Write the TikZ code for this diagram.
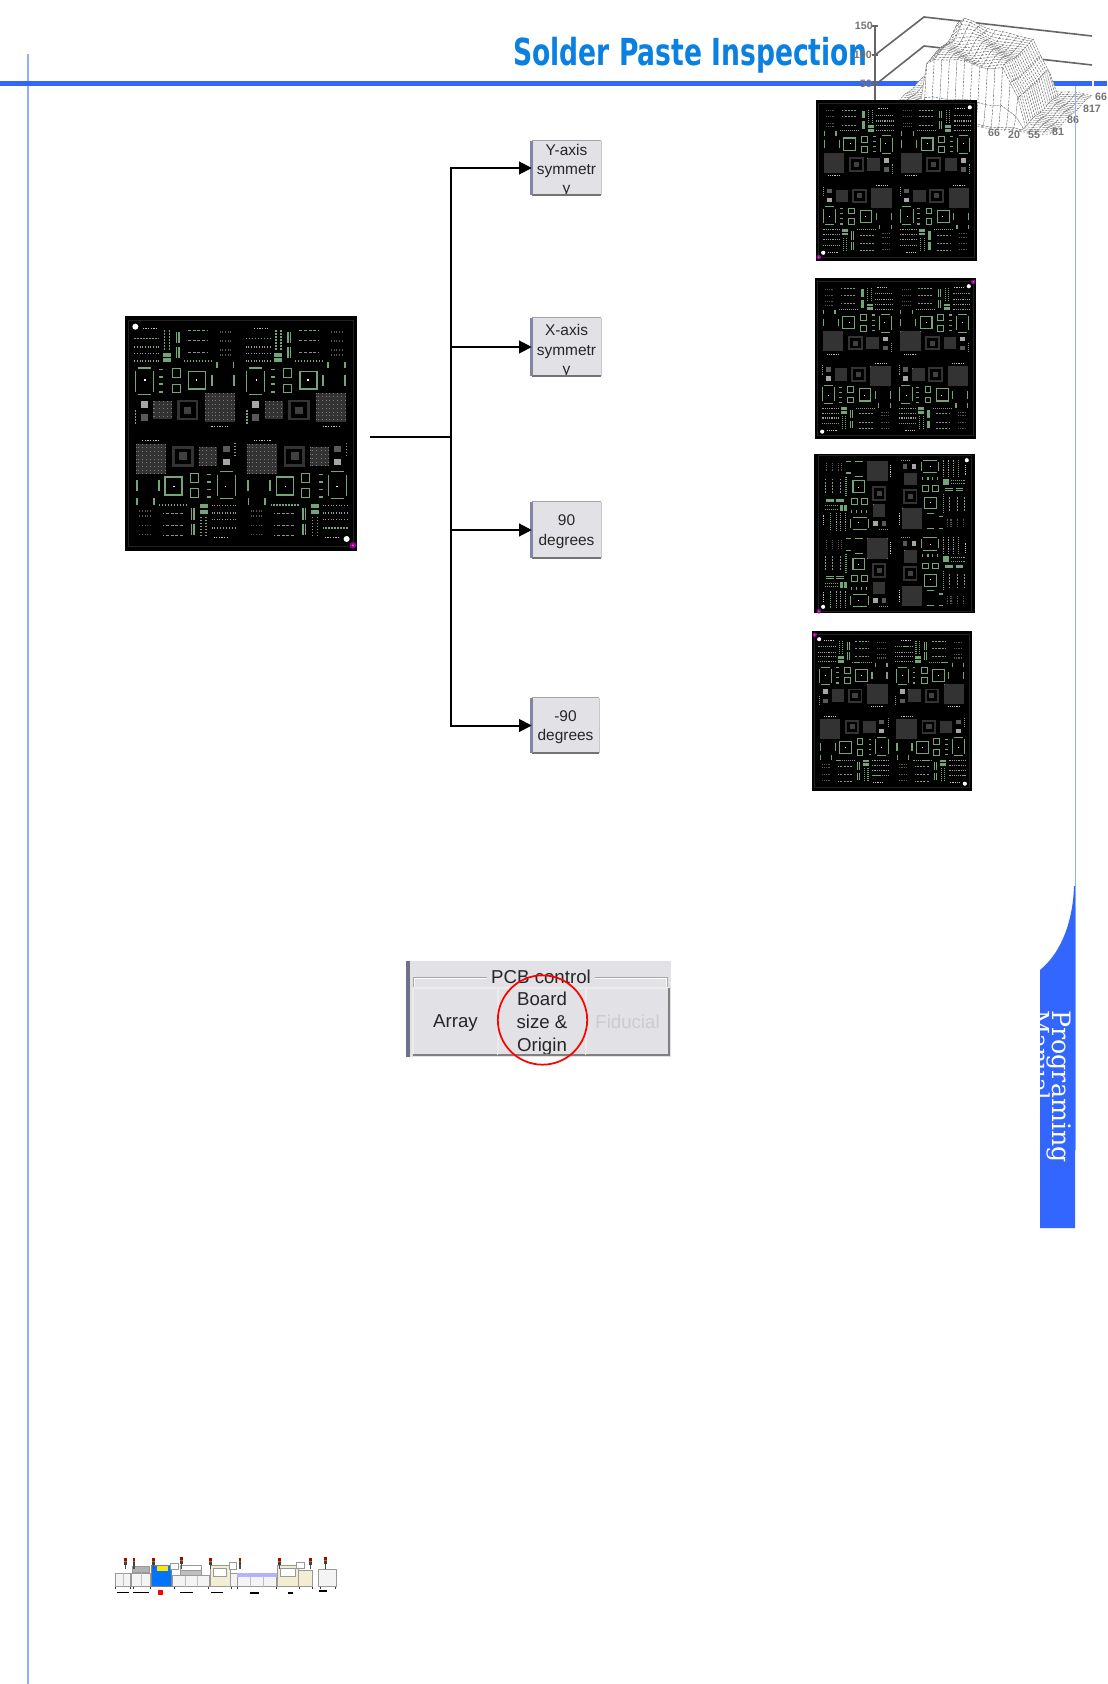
\documentclass[tikz,border=0pt]{standalone}
\usepackage{fontspec}
\usepackage{graphicx}
\setmainfont{Liberation Sans}
\newfontfamily\slabfont{DejaVu Serif}
\newfontfamily\blockfont{DejaVu Sans}
\usetikzlibrary{arrows.meta}
\definecolor{hdr}{HTML}{3366FF}
\definecolor{thinln}{HTML}{8FAEFF}
\definecolor{ttl}{HTML}{0A80E0}
\definecolor{pan}{HTML}{E2E1E5}
\definecolor{barc}{HTML}{8484A4}
\definecolor{grn}{HTML}{74A47A}
\definecolor{dimg}{HTML}{565656}
\definecolor{gridc}{HTML}{7A7A7A}
\definecolor{cream}{HTML}{F3EED2}
\definecolor{mach}{HTML}{F4F4F4}
\tikzset{
  declare function={
    bx(\u,\v)=min(1,max(0,(\u-.2)/.03))*min(1,max(0,(.8-\u)/.04))*min(1,max(0,(\v-.08)/.03))*min(1,max(0,(.95-\v)/.05));
    hh(\u,\v)=bx(\u,\v)*(56+5*\v-18*(\u-.25)*\v+2*sin(900*\u+700*\v)+7*exp(-((\u-.33)^2+(\v-.9)^2)/.03))*(\u>.7?.72:1)+1*sin(1500*\u+900*\v);
  },
  gdot/.style={draw=grn,line width=5*\pu,dash pattern=on 5*\pu off 4*\pu},
  gdsh/.style={draw=grn,line width=4*\pu,dash pattern=on 9*\pu off 5*\pu},
  gbar/.style={draw=grn,line width=5*\pu},
  ydot/.style={draw=dimg,line width=5*\pu,dash pattern=on 3*\pu off 5*\pu},
  wdot/.style={draw=white!75!black,line width=3*\pu,dash pattern=on 4*\pu off 4*\pu},
  gline/.style={draw=grn,line width=3.5*\pu},
  btn/.style={rectangle,fill=pan,inner sep=0pt,minimum width=#1},
  btxt/.style={font=\fontsize{11.6}{14.4}\selectfont,align=center,inner sep=0pt,text=black!85},
  ptxt/.style={font=\fontsize{14}{17.2}\selectfont,align=center,inner sep=0pt,text=black!85},
  axl/.style={font=\bfseries\fontsize{8}{8}\selectfont,text=black!55,inner sep=0pt},
  conn/.style={draw=black,line width=1.5pt},
  mc/.style={draw=black!40,line width=.35pt,fill=mach},
}
\newcommand{\gridbox}[5]{%
  \fill[gridc] (#1,#2) rectangle (#3,#4);
  \foreach \gx in {1,...,#5}{\draw[black!80,line width=1.3*\pu] ({#1+(#3-#1)*\gx/(#5+1)},#2) -- ({#1+(#3-#1)*\gx/(#5+1)},#4);
    \draw[black!80,line width=1.3*\pu] (#1,{#2+(#4-#2)*\gx/(#5+1)}) -- (#3,{#2+(#4-#2)*\gx/(#5+1)});}}
\newcommand{\qpat}{%
  \draw[wdot] (100,85) -- (142,85);
  \draw[gdot] (75,115) -- (148,115);
  \draw[ydot,draw=white!60!black] (75,140) -- (148,140);
  \draw[ydot,draw=white!60!black] (75,160) -- (148,160);
  \draw[ydot,draw=white!60!black] (75,182) -- (148,182);
  \draw[gdot] (165,90) -- (165,150);
  \draw[gdot] (180,90) -- (180,150);
  \draw[gbar] (201,95) -- (201,128); \draw[gbar] (209,95) -- (209,128);
  \draw[gbar] (201,140) -- (201,175); \draw[gbar] (209,140) -- (209,175);
  \fill[grn] (160,158) rectangle (185,170); \fill[grn] (160,174) rectangle (185,186);
  \draw[gdsh] (235,92) -- (295,92);
  \draw[gdsh,draw=white!55!black] (235,122) -- (295,122);
  \draw[gdsh,draw=white!55!black] (235,158) -- (295,158);
  \draw[gdot] (222,183) -- (305,183);
  \draw[ydot] (330,95) -- (368,95);
  \draw[ydot] (330,122) -- (368,122);
  \draw[ydot] (330,150) -- (368,150);
  \draw[ydot] (330,165) -- (368,165);
  \draw[gline] (78,212) -- (78,275); \draw[gline] (132,212) -- (132,275);
  \draw[gline] (85,204) -- (125,204); \draw[gline] (85,283) -- (125,283);
  \fill[white] (105,238) rectangle (109,242);
  \foreach \yy in {208,230,252,275}{\draw[gbar] (150,\yy) -- (162,\yy);}
  \draw[gline] (188,206) rectangle (213,232);
  \draw[gline] (188,252) rectangle (213,278);
  \draw[gline,line width=5*\pu] (237,214) rectangle (288,267);
  \fill[white] (259,238) rectangle (263,242);
  \draw[gbar,line width=6*\pu] (307,225) -- (307,258);
  \draw[gbar,line width=6*\pu] (372,225) -- (372,258);
  \draw[gbar] (322,185) -- (322,205);
  \draw[gbar] (372,185) -- (372,205);
  \draw[gdot] (78,330) -- (78,372);
  \fill[white!65!black] (95,303) rectangle (116,323);
  \fill[white!35!black] (95,343) rectangle (116,362);
  \gridbox{132}{302}{187}{358}{13}
  \draw[white!20!black,line width=8*\pu] (207,303) rectangle (262,357);
  \fill[white!25!black] (222,320) rectangle (245,342);
  \gridbox{286}{278}{375}{367}{21}
  \draw[wdot] (305,378) -- (356,378);
}
\newcommand{\boardat}[8]{% name, cx, cy, w, h, transform, pu, colour
  \node (#1) [rectangle,fill=black,inner sep=0pt,minimum width=#4*.75pt,minimum height=#5*.75pt] at (#2,#3) {};
  \begin{scope}[shift={(#2,#3)},#6,xscale=#4/694,yscale=#5/704,shift={(-394,-400)}]
    \def\pu{#7}
    \draw[white!13!black,line width=3*\pu] (58,62) rectangle (730,738);
    \begin{scope}\qpat\end{scope}
    \begin{scope}[shift={(333,0)}]\qpat\end{scope}
    \begin{scope}[rotate around={180:(394,399)}]\qpat\end{scope}
    \begin{scope}[rotate around={180:(394,399)},shift={(333,0)}]\qpat\end{scope}
    \fill[white] (78,80) circle (9);
    \fill[white] (710,716) circle (9);
    \fill[#8] (729,735) circle (10);
    \fill[#8!50!white] (729,735) circle (3);
  \end{scope}}
\newcommand{\bevel}[1]{%
  \draw[black!35,line width=1pt] (#1.north west) -- (#1.north east);
  \draw[black!22,line width=1pt] (#1.north east) -- (#1.south east);
  \draw[black!55,line width=1.5pt] (#1.south west) -- (#1.south east);
  \draw[barc,line width=2pt] (#1.north west) -- (#1.south west);}
\newcommand{\pbevel}[1]{%
  \draw[white!92!black,line width=1.2pt] (#1.south west) -- (#1.north west) -- (#1.north east);
  \draw[black!50,line width=1.4pt] (#1.north east) -- (#1.south east) -- (#1.south west);}
\newcommand{\beacon}[2]{%
  \draw[black!70,line width=.9pt] (#1,#2) -- ++(0,26);
  \fill[red!70!black] ({#1-4},#2) rectangle ++(8,-8);
  \fill[olive] ({#1-4},{#2+4}) rectangle ++(8,-4);
  \fill[black!75] ({#1-4},{#2+12}) rectangle ++(8,-8);}
\begin{document}
\begin{tikzpicture}[x=.75pt,y=-.75pt]
\useasboundingbox (0,0) rectangle (1107,1684);
\fill[white] (0,0) rectangle (1107,1684);
% page frame
\draw[thinln,line width=1pt] (28,54) -- (28,1684);
\fill[hdr] (0,81) rectangle (1092,86);
\fill[hdr] (1094,81) rectangle (1107,86);
% title
\node[inner sep=0pt,text=ttl] (title) at (690.5,55) {\resizebox*{266pt}{27pt}{\blockfont\bfseries Solder Paste Inspection}};
% chart
\draw[black!60,line width=1.2pt] (875,55) -- (924,17) -- (1092,36);
\draw[black!60,line width=1.2pt] (875,85) -- (924,46) -- (1092,65);
\draw[black!60,line width=1.2pt] (875,26) -- (875,125);
\foreach \ty in {26,55,84}{\draw[black!60,line width=1pt] (872,\ty) -- (878,\ty);}
\node[axl,anchor=east] (a150) at (873,26) {150};
\node[axl,anchor=east] (a100) at (872,55) {100};
\node[axl,anchor=east] (a50) at (872,84) {50};
\foreach \j in {21,...,0}{
  \foreach \i in {0,...,21}{
    \pgfmathsetmacro{\ua}{\i/22}\pgfmathsetmacro{\ub}{(\i+1)/22}
    \pgfmathsetmacro{\va}{\j/22}\pgfmathsetmacro{\vb}{(\j+1)/22}
    \pgfmathsetmacro{\haa}{hh(\ua,\va)}\pgfmathsetmacro{\hba}{hh(\ub,\va)}
    \pgfmathsetmacro{\hab}{hh(\ua,\vb)}\pgfmathsetmacro{\hbb}{hh(\ub,\vb)}
    \pgfmathsetmacro{\xaa}{883+167*\ua+42*\va}\pgfmathsetmacro{\xba}{883+167*\ub+42*\va}
    \pgfmathsetmacro{\xab}{883+167*\ua+42*\vb}\pgfmathsetmacro{\xbb}{883+167*\ub+42*\vb}
    \pgfmathsetmacro{\yaa}{116+19*\ua-40*\va}\pgfmathsetmacro{\yba}{116+19*\ub-40*\va}
    \pgfmathsetmacro{\yab}{116+19*\ua-40*\vb}\pgfmathsetmacro{\ybb}{116+19*\ub-40*\vb}
    \fill[white] (\xaa,\yaa-\haa) -- (\xba,\yba-\hba) -- (\xba,\yba) -- (\xaa,\yaa) -- cycle;
    \filldraw[fill=white,draw=black!60,line width=.3pt,dash pattern=on 1.5pt off 1.1pt]
      (\xaa,\yaa-\haa) -- (\xba,\yba-\hba) -- (\xbb,\ybb-\hbb) -- (\xab,\yab-\hab) -- cycle;
    \draw[black!32,line width=.3pt] (\xaa,\yaa-\haa) -- (\xaa,\yaa);
  }
}
\node[axl] (t1) at (994,133) {66};
\node[axl] (t2) at (1014,135) {20};
\node[axl] (t3) at (1034,135) {55};
\node[axl] (t4) at (1058,132) {81};
\node[axl] (t5) at (1073,120) {86};
\node[axl] (t6) at (1092,109) {817};
\node[axl] (t7) at (1101,97) {66};
\draw[thinln,line width=.8pt] (1075.5,86) -- (1075.5,1150);
% boards
\boardat{bmain}{241}{433.5}{232}{235}{rotate=0}{.25pt}{violet!80!magenta}
\boardat{b1img}{896.5}{180.5}{161}{161}{xscale=-1}{.17pt}{violet!80!magenta}
\boardat{b2img}{895.5}{358.5}{161}{161}{yscale=-1}{.17pt}{violet!80!magenta}
\boardat{b3img}{894.5}{533.5}{161}{159}{rotate=-90}{.17pt}{violet!80!magenta}
\boardat{b4img}{892}{711}{160}{160}{rotate=180}{.17pt}{violet!80!magenta}
% buttons
\node[btn=51.75pt,minimum height=40.5pt,path picture={\node[btxt,yshift=-1.8pt] at (path picture bounding box.center) {Y-axis\\symmetr\\y};}] (by) at (566.5,168) {};
\node[btn=51.75pt,minimum height=43.5pt,path picture={\node[btxt,yshift=-3pt] at (path picture bounding box.center) {X-axis\\symmetr\\y};}] (bx) at (566.5,347) {};
\node[btn=51.75pt,minimum height=42pt,btxt,text depth=0pt,yshift=0pt] (b90) at (566.5,530) {90\\degrees};
\node[btn=50.25pt,minimum height=41.25pt,btxt,text depth=0pt] (bm90) at (565.5,725.5) {-90\\degrees};
\bevel{by}\bevel{bx}\bevel{b90}\bevel{bm90}
% connectors
\coordinate (src) at (370,437);
\coordinate (jn) at (451,437);
\draw[conn] (src) -- (jn);
\draw[conn,-{Triangle[length=9.5pt,width=9.5pt]}] (jn) |- (by.west);
\draw[conn,-{Triangle[length=9.5pt,width=9.5pt]}] (jn) |- (bx.west);
\draw[conn,-{Triangle[length=9.5pt,width=9.5pt]}] (jn) |- (b90.west);
\draw[conn,-{Triangle[length=9.5pt,width=9.5pt]}] (jn) |- (bm90.west);
% PCB control panel
\fill[pan] (406,961) rectangle (671,1057);
\fill[barc!85!black] (406,961) rectangle (410,1057);
\draw[black!35,line width=.6pt] (413,988) -- (413,977) -- (667,977) -- (667,988);
\draw[white,line width=.6pt] (414,988) -- (414,978.5) -- (666,978.5) -- (666,988);
\node[ptxt,fill=pan,inner xsep=3pt,minimum height=14pt,text depth=0pt] (pcbt) at (541,977) {PCB control};
\node[btn=63.75pt,minimum height=50.25pt,ptxt,text depth=0pt] (barr) at (455.5,1021.5) {Array};
\node[btn=66pt,minimum height=50.25pt,path picture={\node[ptxt] at ([yshift=-1.4pt]path picture bounding box.center) {Board\\size \&\\Origin};}] (bbrd) at (542,1021.5) {};
\node[btn=62.25pt,minimum height=50.25pt,ptxt,text=black!20] (bfid) at (627.5,1021.5) {Fiducial};
\pbevel{barr}\pbevel{bbrd}\pbevel{bfid}
\node[circle,draw=red,line width=1.3pt,minimum size=67pt,inner sep=0pt] (ring) at (542.5,1020) {};
% side tab
\fill[hdr] (1040,1228) -- (1040,970) .. controls (1062,952) and (1073,920) .. (1074,886) -- (1075,886) -- (1075,1228) -- cycle;
\node[anchor=base west,rotate=-90,inner sep=0pt,text=white,font=\slabfont\fontsize{19}{19}\selectfont] (prog) at (1052,1010) {Programing};
\begin{scope}
\clip (1040,1000) rectangle (1075,1110);
\node[anchor=base west,rotate=-90,inner sep=0pt,text=white,font=\slabfont\fontsize{17.5}{19}\selectfont] (manl) at (1032,1010) {Manual};
\end{scope}
% line of machines
\begin{scope}[shift={(100,1540)},x=.25pt,y=-.25pt]
\foreach \fx in {45,90,100,150,222,325,395,412,530,598,636,660,706}{\draw[black!80,line width=.5pt] (\fx,140) -- (\fx,148);}
\draw[mc] (45,100) rectangle (92,140);
\draw[black!25,line width=.25pt] (68,100) -- (68,140);
\draw[mc] (95,100) rectangle (150,140);
\draw[black!25,line width=.25pt] (122,100) -- (122,140);
\draw[mc,fill=black!30] (98,78) rectangle (148,98);
\fill[blue!55!cyan] (155,75) rectangle (215,140);
\fill[yellow!90!orange] (170,78) rectangle (205,92);
\draw[black!50,line width=.3pt] (155,75) rectangle (215,140);
\draw[mc] (218,105) rectangle (328,140);
\draw[black!25,line width=.25pt] (255,105) -- (255,140) (290,105) -- (290,140);
\draw[mc,fill=black!25] (240,90) rectangle (305,105);
\draw[mc,fill=white] (240,75) rectangle (305,90);
\draw[mc,fill=white] (212,70) rectangle (235,88);
\draw[mc,fill=cream] (330,75) rectangle (390,140);
\draw[mc,fill=white] (340,85) rectangle (380,108);
\draw[mc,fill=white] (388,68) rectangle (410,88);
\draw[mc] (390,100) rectangle (412,140);
\draw[mc] (412,100) rectangle (530,140);
\draw[black!25,line width=.25pt] (450,110) -- (450,140) (490,110) -- (490,140);
\fill[blue!30!white] (412,100) rectangle (530,110);
\draw[mc,fill=cream] (532,75) rectangle (595,140);
\draw[mc,fill=white] (542,85) rectangle (585,108);
\draw[mc,fill=white] (590,68) rectangle (612,85);
\draw[mc,fill=cream] (595,92) rectangle (638,140);
\draw[mc] (655,88) rectangle (708,140);
\beacon{76}{62}\beacon{102}{62}\beacon{160}{62}\beacon{245}{60}\beacon{332}{62}\beacon{420}{62}\beacon{538}{62}\beacon{632}{62}\beacon{676}{60}
\fill[black] (52,155) rectangle (88,159);
\fill[black] (100,155) rectangle (146,159);
\fill[red] (175,150) rectangle (190,165);
\fill[black] (240,155) rectangle (280,159);
\fill[black] (332,155) rectangle (370,159);
\fill[black] (450,157) rectangle (476,161);
\fill[black] (565,157) rectangle (578,163);
\fill[black] (658,150) rectangle (682,156);
\end{scope}
\end{tikzpicture}
\end{document}
